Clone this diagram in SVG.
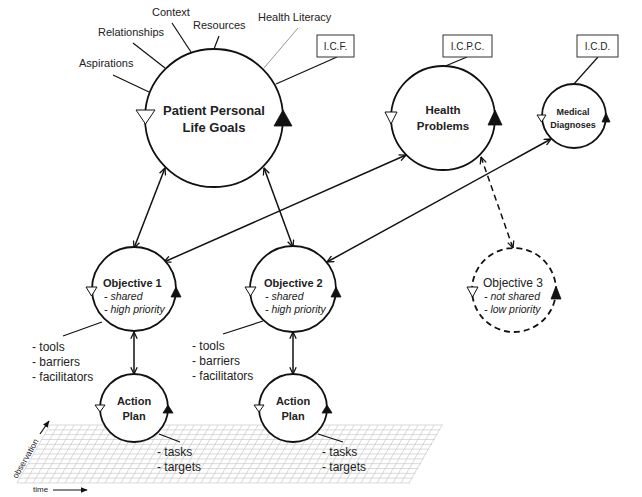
<svg xmlns="http://www.w3.org/2000/svg" width="642" height="497" viewBox="0 0 642 497">
<style>
text{font-family:"Liberation Sans",Arial,sans-serif;fill:#222}
.lbl{font-size:11px}
.box{font-size:10px;text-anchor:middle}
.nb{font-weight:bold;text-anchor:middle}
.sub{font-size:10.5px;font-style:italic}
.list{font-size:12px}
.circ{fill:#fff;stroke:#111;stroke-width:1.8}
.dash{stroke-dasharray:6,4}
.hol{fill:#fff;stroke:#111;stroke-width:1}
.fil{fill:#111;stroke:#111;stroke-width:0.8}
.ln{stroke:#111;stroke-width:1.2;fill:none}
.con{stroke:#111;stroke-width:1.5;fill:none;marker-start:url(#ah);marker-end:url(#ah)}
.rect{fill:#fff;stroke:#333;stroke-width:1}
</style>
<defs>
<marker id="ah" viewBox="0 0 10 10" refX="9.5" refY="5" markerWidth="8" markerHeight="8" markerUnits="userSpaceOnUse" orient="auto-start-reverse">
<path d="M1,1 L9.5,5 L1,9" fill="none" stroke="#111" stroke-width="1.6"/>
</marker>
<marker id="fh" viewBox="0 0 10 10" refX="9" refY="5" markerWidth="7" markerHeight="7" markerUnits="userSpaceOnUse" orient="auto">
<path d="M0,1 L10,5 L0,9 Z" fill="#111"/>
</marker>
</defs>
<rect width="642" height="497" fill="#fff"/>

<g id="grid" stroke="#c8c8c8" stroke-width="0.7" fill="none">
<path d="M50,425 l-33,58 m41,-58 l-33,58 m41,-58 l-33,58 m41,-58 l-33,58 m41,-58 l-33,58 m41,-58 l-33,58 m41,-58 l-33,58 m41,-58 l-33,58 m41,-58 l-33,58 m41,-58 l-33,58 m41,-58 l-33,58 m41,-58 l-33,58 m41,-58 l-33,58 m41,-58 l-33,58 m41,-58 l-33,58 m41,-58 l-33,58 m41,-58 l-33,58 m41,-58 l-33,58 m41,-58 l-33,58 m41,-58 l-33,58 m41,-58 l-33,58 m41,-58 l-33,58 m41,-58 l-33,58 m41,-58 l-33,58 m41,-58 l-33,58 m41,-58 l-33,58 m41,-58 l-33,58 m41,-58 l-33,58 m41,-58 l-33,58 m41,-58 l-33,58 m41,-58 l-33,58 m41,-58 l-33,58 m41,-58 l-33,58 m41,-58 l-33,58 m41,-58 l-33,58 m41,-58 l-33,58 m41,-58 l-33,58 m41,-58 l-33,58 m41,-58 l-33,58 m41,-58 l-33,58 m41,-58 l-33,58 m41,-58 l-33,58 m41,-58 l-33,58 m41,-58 l-33,58 m41,-58 l-33,58 m41,-58 l-33,58 m41,-58 l-33,58 m41,-58 l-33,58 m41,-58 l-33,58 m41,-58 l-33,58"/>
<path d="M50,425 h393 m-395.75,4.833 h393 m-395.75,4.833 h393 m-395.75,4.833 h393 m-395.75,4.833 h393 m-395.75,4.833 h393 m-395.75,4.833 h393 m-395.75,4.833 h393 m-395.75,4.833 h393 m-395.75,4.833 h393 m-395.75,4.833 h393 m-395.75,4.833 h393 m-395.75,4.833 h393"/>
</g>
<g id="axes">
<text x="0" y="0" font-size="8.5" transform="translate(28,460) rotate(-60)" text-anchor="middle">observation</text>
<line x1="40" y1="434" x2="49" y2="421" class="ln" marker-end="url(#fh)"/>
<text x="33" y="492" font-size="8">time</text>
<line x1="53" y1="490" x2="87" y2="490" class="ln" marker-end="url(#fh)"/>
</g>

<g id="connectors">
<line class="con" x1="165" y1="168" x2="134" y2="248"/>
<line class="con" x1="264" y1="168" x2="293" y2="247"/>
<line class="con" x1="406" y1="155" x2="164" y2="262"/>
<line class="con" x1="551" y1="139" x2="327" y2="262"/>
<line class="con dash" x1="481" y1="157" x2="513" y2="248"/>
<line class="con" x1="134" y1="332" x2="134" y2="374"/>
<line class="con" x1="293" y1="332" x2="293" y2="374"/>
</g>

<g id="goals">
<line class="ln" x1="172" y1="23" x2="191" y2="52"/>
<line class="ln" x1="219" y1="36" x2="214" y2="49"/>
<line x1="298" y1="28" x2="264" y2="68" stroke="#888" stroke-width="0.9"/>
<line class="ln" x1="133" y1="43" x2="165" y2="68"/>
<line class="ln" x1="113" y1="75" x2="149" y2="92"/>
<line class="ln" x1="337" y1="57" x2="276" y2="84"/>
<text class="lbl" x="152" y="16">Context</text>
<text class="lbl" x="193" y="29">Resources</text>
<text class="lbl" x="258" y="21">Health Literacy</text>
<text class="lbl" x="98" y="36">Relationships</text>
<text class="lbl" x="79" y="67">Aspirations</text>
<rect class="rect" x="317" y="35" width="37" height="22"/>
<text class="box" x="335.5" y="50">I.C.F.</text>
<circle class="circ" cx="214" cy="118" r="69"/>
<polygon class="hol" points="136,110 155,110 145.5,124"/>
<polygon class="fil" points="274,126 292,126 283,110"/>
<text class="nb" x="214" y="115" font-size="13">Patient Personal</text>
<text class="nb" x="214" y="132" font-size="13">Life Goals</text>
</g>

<g id="health-problems">
<line class="ln" x1="467" y1="57" x2="443" y2="67"/>
<rect class="rect" x="443" y="35" width="49" height="22"/>
<text class="box" x="467.5" y="50">I.C.P.C.</text>
<circle class="circ" cx="443" cy="118" r="52"/>
<polygon class="hol" points="385,112 397,112 391,124"/>
<polygon class="fil" points="488,125 502,125 495,110"/>
<text class="nb" x="443" y="114" font-size="11.5">Health</text>
<text class="nb" x="443" y="130" font-size="11.5">Problems</text>
</g>

<g id="medical-diagnoses">
<line class="ln" x1="598" y1="57" x2="573" y2="85"/>
<rect class="rect" x="577" y="35" width="41" height="22"/>
<text class="box" x="597.5" y="50">I.C.D.</text>
<circle class="circ" cx="574" cy="116" r="32"/>
<polygon class="hol" points="537,115 546,115 541.5,122"/>
<polygon class="fil" points="602,122 610,122 606,113"/>
<text class="nb" x="573" y="115" font-size="9">Medical</text>
<text class="nb" x="573" y="128" font-size="9">Diagnoses</text>
</g>

<g id="objective-1">
<line class="ln" x1="63" y1="336" x2="102" y2="322"/>
<circle class="circ" cx="134" cy="289" r="42"/>
<polygon class="hol" points="86,287 97,287 91.5,296"/>
<polygon class="fil" points="171,297 181,297 176,287"/>
<text x="103" y="287" font-size="11" font-weight="bold">Objective 1</text>
<text class="sub" x="104" y="300">- shared</text>
<text class="sub" x="104" y="313">- high priority</text>
<text class="list" x="32" y="351">- tools</text>
<text class="list" x="32" y="366">- barriers</text>
<text class="list" x="32" y="381">- facilitators</text>
</g>

<g id="objective-2">
<line class="ln" x1="223" y1="334" x2="263" y2="321"/>
<circle class="circ" cx="293" cy="289" r="43"/>
<polygon class="hol" points="245,287 256,287 250.5,296"/>
<polygon class="fil" points="331,297 341,297 336,287"/>
<text x="264" y="287" font-size="11" font-weight="bold">Objective 2</text>
<text class="sub" x="265" y="300">- shared</text>
<text class="sub" x="265" y="313">- high priority</text>
<text class="list" x="192" y="350">- tools</text>
<text class="list" x="192" y="365">- barriers</text>
<text class="list" x="192" y="380">- facilitators</text>
</g>

<g id="objective-3">
<circle class="circ dash" cx="514" cy="290" r="42"/>
<polygon class="hol" points="467,287 478,287 472.5,297"/>
<polygon class="fil" points="551,299 561,299 556,286"/>
<text x="483" y="287" font-size="12">Objective 3</text>
<text class="sub" x="484" y="300">- not shared</text>
<text class="sub" x="484" y="313">- low priority</text>
</g>

<g id="action-plan-1">
<line class="ln" x1="159" y1="434" x2="180" y2="442"/>
<circle class="circ" cx="134" cy="408" r="34"/>
<polygon class="hol" points="95,405 105,405 100,412"/>
<polygon class="fil" points="163,413 173,413 168,405"/>
<text class="nb" x="134" y="405" font-size="11">Action</text>
<text class="nb" x="134" y="420" font-size="11">Plan</text>
<text class="list" x="157" y="456">- tasks</text>
<text class="list" x="157" y="471">- targets</text>
</g>

<g id="action-plan-2">
<line class="ln" x1="318" y1="434" x2="343" y2="442"/>
<circle class="circ" cx="293" cy="408" r="34"/>
<polygon class="hol" points="254,405 264,405 259,412"/>
<polygon class="fil" points="322,413 332,413 327,405"/>
<text class="nb" x="293" y="405" font-size="11">Action</text>
<text class="nb" x="293" y="420" font-size="11">Plan</text>
<text class="list" x="322" y="456">- tasks</text>
<text class="list" x="322" y="471">- targets</text>
</g>
</svg>
